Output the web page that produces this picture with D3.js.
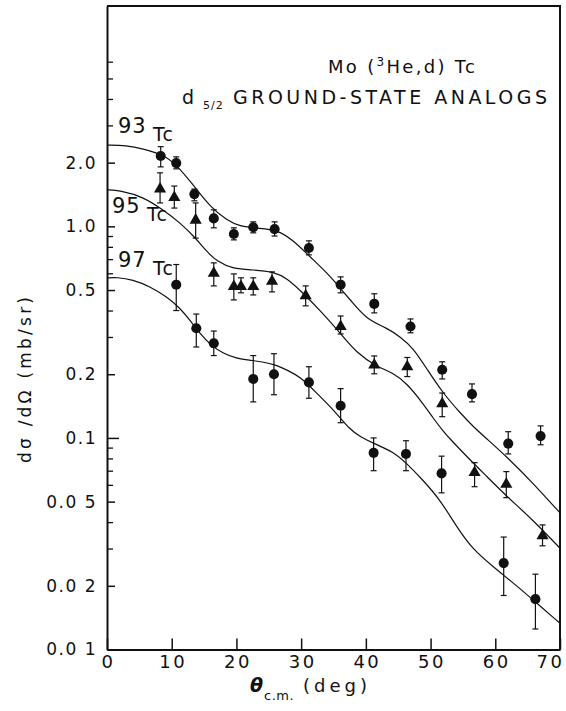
<!DOCTYPE html>
<html lang="en">
<head>
  <meta charset="UTF-8">
  <title>Mo(3He,d)Tc ground-state analogs</title>
  <script src="https://d3js.org/d3.v7.min.js"></script>
  <style>
    body { margin: 0; background: #fff; }
    text { font-family: "DejaVu Sans", sans-serif; fill: #111; }
  </style>
</head>
<body>
  <script>
    // measured points (angle in deg, cross section in mb/sr, error bar low/high)
    const theta93 = [8.3, 10.7, 13.5, 16.5, 19.6, 22.6, 25.9, 31.2, 36.1, 41.3, 46.9, 51.8, 56.4, 62.0, 67.0];
    const sigma93 = [2.15, 1.99, 1.42, 1.09, 0.92, 0.99, 0.97, 0.79, 0.53, 0.43, 0.336, 0.21, 0.161, 0.094, 0.102];
    const lo93 = [1.91, 1.87, 1.32, 0.984, 0.863, 0.932, 0.90, 0.733, 0.485, 0.39, 0.314, 0.19, 0.148, 0.084, 0.0928];
    const hi93 = [2.38, 2.13, 1.50, 1.197, 0.984, 1.05, 1.05, 0.854, 0.577, 0.48, 0.365, 0.229, 0.18, 0.107, 0.114];

    const theta95 = [8.2, 10.4, 13.7, 16.5, 19.6, 20.7, 22.6, 25.5, 30.7, 36.1, 41.3, 46.4, 51.8, 56.8, 61.7, 67.3];
    const sigma95 = [1.50, 1.37, 1.07, 0.60, 0.52, 0.52, 0.52, 0.55, 0.47, 0.336, 0.221, 0.217, 0.145, 0.0686, 0.0604, 0.0345];
    const lo95 = [1.29, 1.22, 0.88, 0.523, 0.449, 0.485, 0.474, 0.49, 0.421, 0.31, 0.201, 0.195, 0.126, 0.0588, 0.0522, 0.0309];
    const hi95 = [1.79, 1.55, 1.29, 0.672, 0.596, 0.571, 0.571, 0.609, 0.523, 0.377, 0.244, 0.24, 0.163, 0.0764, 0.0693, 0.0388];

    const theta97 = [10.7, 13.8, 16.5, 22.6, 25.8, 31.2, 36.1, 41.2, 46.2, 51.7, 61.3, 66.2];
    const sigma97 = [0.53, 0.33, 0.28, 0.19, 0.20, 0.183, 0.142, 0.085, 0.084, 0.068, 0.0256, 0.0173];
    const lo97 = [0.40, 0.269, 0.245, 0.148, 0.16, 0.154, 0.118, 0.070, 0.070, 0.055, 0.018, 0.0125];
    const hi97 = [0.66, 0.385, 0.32, 0.245, 0.25, 0.217, 0.171, 0.10, 0.097, 0.082, 0.034, 0.0227];

    // DWBA curves
    const fitTheta93 = [0, 3, 5.5, 8.65, 10.66, 13.4, 15.9, 18.5, 20.6, 23.6, 26.3, 28.7, 31.4, 34.0, 36.0, 37.6, 40.2, 43.3, 45.3, 47.3, 49.5, 51.9, 54.6, 56.6, 58.7, 61.8, 65.8, 70];
    const fit93 = [2.42, 2.41, 2.33, 2.18, 1.97, 1.56, 1.24, 1.07, 0.995, 0.98, 0.96, 0.864, 0.717, 0.603, 0.512, 0.449, 0.361, 0.331, 0.30, 0.267, 0.21, 0.163, 0.131, 0.113, 0.099, 0.0813, 0.0613, 0.0442];

    const fitTheta95 = [0, 2, 5.56, 8.65, 11.3, 13.7, 15.4, 17.0, 19.5, 22.6, 25.7, 27.8, 30.3, 32.9, 36.0, 38.6, 41.7, 44.2, 46.3, 48.8, 50.4, 51.9, 53.0, 55.6, 58.7, 61.8, 65.8, 70];
    const fit95 = [1.49, 1.476, 1.38, 1.197, 1.04, 0.88, 0.76, 0.682, 0.628, 0.623, 0.611, 0.569, 0.483, 0.401, 0.314, 0.2515, 0.217, 0.203, 0.1815, 0.146, 0.124, 0.108, 0.099, 0.0816, 0.0657, 0.0528, 0.041, 0.0301];

    const fitTheta97 = [0, 1.5, 4.0, 6.6, 9.2, 11.3, 12.8, 14.4, 16, 18, 20, 22, 24, 26, 28, 29.8, 32.4, 35.0, 37.6, 39.1, 41.7, 44.2, 46.3, 48.8, 51.5, 54.0, 56.6, 59.7, 62.8, 65.8, 70];
    const fit97 = [0.57, 0.575, 0.56, 0.52, 0.466, 0.41, 0.361, 0.31, 0.275, 0.25, 0.238, 0.233, 0.229, 0.222, 0.208, 0.195, 0.163, 0.136, 0.109, 0.1014, 0.0927, 0.0861, 0.0759, 0.0633, 0.0509, 0.0381, 0.0295, 0.0246, 0.0206, 0.0172, 0.0133];

    const xTicks = [0, 10, 20, 30, 40, 50, 60, 70];
    const yTicks = [0.01, 0.02, 0.05, 0.1, 0.2, 0.5, 1, 2];
    const yTickLabels = ["0.0 1", "0.0 2", "0.0 5", "0.1", "0.2", "0.5", "1.0", "2.0"];

    const width = 566, height = 711;
    const plotLeft = 107, plotRight = 560, plotTop = 6, plotBottom = 649.5;

    const x = d3.scaleLinear().domain([0, 70]).range([plotLeft, plotRight]);
    const y = d3.scaleLog().domain([0.01, 11]).range([plotBottom, plotTop]);

    const svg = d3.select("body").append("svg")
      .attr("width", width)
      .attr("height", height);

    // frame top + right
    svg.append("path")
      .attr("d", `M${plotLeft},${plotTop}H${plotRight}V${plotBottom}`)
      .attr("fill", "none")
      .attr("stroke", "#111")
      .attr("stroke-width", 2);

    // x axis
    const xAxis = svg.append("g")
      .attr("transform", `translate(0,${plotBottom})`)
      .call(d3.axisBottom(x).tickValues(xTicks).tickSizeInner(-11).tickSizeOuter(0).tickPadding(6));
    xAxis.select(".domain").attr("stroke", "#111").attr("stroke-width", 2);
    xAxis.selectAll(".tick line").attr("stroke", "#111").attr("stroke-width", 1.5);
    xAxis.selectAll(".tick text")
      .attr("font-size", 18)
      .attr("letter-spacing", 2.5)
      .attr("text-anchor", d => d === 70 ? "end" : "middle")
      .attr("dx", d => d === 70 ? 4 : 1)
      .attr("font-family", "DejaVu Sans")
      .attr("fill", "#111");

    // y axis: minor ticks from the scale, labelled ticks on top
    const minor = y.ticks().filter(v => v <= 6 && !yTicks.includes(v));
    svg.append("g")
      .attr("transform", `translate(${plotLeft},0)`)
      .call(d3.axisLeft(y).tickValues(minor).tickSizeInner(-6).tickSizeOuter(0).tickFormat(""))
      .call(g => g.select(".domain").attr("stroke", "#111").attr("stroke-width", 2))
      .call(g => g.selectAll(".tick line").attr("stroke", "#111").attr("stroke-width", 1.3));

    const yAxis = svg.append("g")
      .attr("transform", `translate(${plotLeft},0)`)
      .call(d3.axisLeft(y).tickValues(yTicks).tickSizeInner(-8).tickSizeOuter(0).tickPadding(10)
        .tickFormat((d, i) => yTickLabels[i]));
    yAxis.select(".domain").remove();
    yAxis.selectAll(".tick line")
      .attr("stroke", "#111")
      .attr("stroke-width", 1.5)
      .attr("x2", d => d === 0.1 ? 12 : 8);
    yAxis.selectAll(".tick text")
      .attr("font-size", 17)
      .attr("letter-spacing", 1.5)
      .attr("font-family", "DejaVu Sans")
      .attr("fill", "#111");

    // curves
    const line = d3.line()
      .x(d => x(d[0]))
      .y(d => y(d[1]))
      .curve(d3.curveBasis);

    [[fitTheta93, fit93], [fitTheta95, fit95], [fitTheta97, fit97]].forEach(([t, s]) => {
      svg.append("path")
        .datum(t.map((v, i) => [v, s[i]]))
        .attr("d", line)
        .attr("fill", "none")
        .attr("stroke", "#111")
        .attr("stroke-width", 1.2);
    });

    // data with error bars
    function drawSet(th, sg, lo, hi, shape) {
      const pts = th.map((t, i) => ({t, s: sg[i], lo: lo[i], hi: hi[i]}));
      const g = svg.append("g");
      const bars = g.selectAll(".err").data(pts).enter().append("g");
      bars.append("line")
        .attr("x1", d => x(d.t)).attr("x2", d => x(d.t))
        .attr("y1", d => y(d.lo)).attr("y2", d => y(d.hi))
        .attr("stroke", "#111").attr("stroke-width", 1.2);
      bars.append("line")
        .attr("x1", d => x(d.t) - 3).attr("x2", d => x(d.t) + 3)
        .attr("y1", d => y(d.lo)).attr("y2", d => y(d.lo))
        .attr("stroke", "#111").attr("stroke-width", 1.2);
      bars.append("line")
        .attr("x1", d => x(d.t) - 3).attr("x2", d => x(d.t) + 3)
        .attr("y1", d => y(d.hi)).attr("y2", d => y(d.hi))
        .attr("stroke", "#111").attr("stroke-width", 1.2);
      g.selectAll(".pt").data(pts).enter().append("path")
        .attr("transform", d => `translate(${x(d.t)},${y(d.s)})`)
        .attr("d", d3.symbol().type(shape).size(shape === d3.symbolCircle ? 80 : 64))
        .attr("fill", "#111");
    }
    drawSet(theta93, sigma93, lo93, hi93, d3.symbolCircle);
    drawSet(theta95, sigma95, lo95, hi95, d3.symbolTriangle);
    drawSet(theta97, sigma97, lo97, hi97, d3.symbolCircle);

    // isotope labels
    function isoLabel(mass, px, py) {
      svg.append("text").attr("x", px).attr("y", py)
        .attr("font-size", 21).attr("letter-spacing", 1).text(mass);
      svg.append("text").attr("x", px + 35).attr("y", py + 8)
        .attr("font-size", 19).attr("letter-spacing", 1).text("Tc");
    }
    isoLabel("93", 118, 133);
    isoLabel("95", 112, 213);
    isoLabel("97", 118, 267);

    // title
    const t1 = svg.append("text").attr("x", 328).attr("y", 73)
      .attr("font-size", 18).attr("letter-spacing", 2.3);
    t1.append("tspan").text("Mo (");
    t1.append("tspan").attr("font-size", 12).attr("dy", -7).text("3");
    t1.append("tspan").attr("dy", 7).text("He,d) Tc");

    svg.append("text").attr("x", 182).attr("y", 104).attr("font-size", 19).text("d");
    svg.append("text").attr("x", 203).attr("y", 109).attr("font-size", 11).attr("letter-spacing", 1).text("5/2");
    svg.append("text").attr("x", 233).attr("y", 104).attr("font-size", 19)
      .attr("textLength", 314).attr("lengthAdjust", "spacing")
      .text("GROUND-STATE ANALOGS");

    // axis titles
    svg.append("text")
      .attr("transform", "translate(31,380) rotate(-90)")
      .attr("text-anchor", "middle")
      .attr("font-size", 17)
      .attr("textLength", 166).attr("lengthAdjust", "spacing")
      .text("dσ /dΩ (mb/sr)");

    svg.append("text").attr("x", 250).attr("y", 692)
      .attr("font-size", 19).attr("font-style", "italic").attr("font-weight", "bold").text("θ");
    svg.append("text").attr("x", 264).attr("y", 700)
      .attr("font-size", 13).attr("letter-spacing", 0.5).text("c.m.");
    svg.append("text").attr("x", 303).attr("y", 692)
      .attr("font-size", 18).attr("textLength", 64).attr("lengthAdjust", "spacing").text("(deg)");
  </script>
</body>
</html>
